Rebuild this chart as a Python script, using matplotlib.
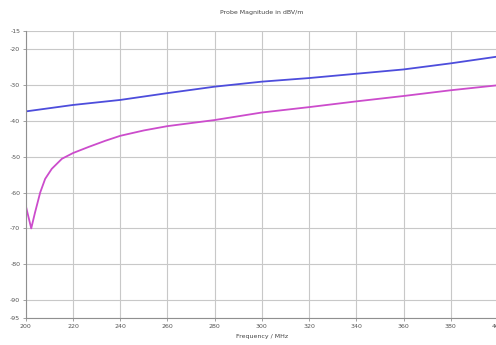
import matplotlib
matplotlib.use("Agg")
import matplotlib.pyplot as plt

# data
freq_blue = [200, 220, 240, 260, 280, 300, 320, 340, 360, 380, 400]
mag_blue = [-37.4, -35.6, -34.2, -32.3, -30.5, -29.1, -28.1, -26.9, -25.7, -24.0, -22.1]

freq_pink = [200, 202.3, 203.9, 206.1, 208.2, 211, 215.3, 220, 226.6, 233.6, 240, 250, 260,
             280, 300, 320, 340, 360, 380, 400]
mag_pink = [-63.7, -70.0, -65.6, -60.0, -56.2, -53.4, -50.6, -49.0, -47.3, -45.6, -44.2, -42.7, -41.5,
            -39.8, -37.7, -36.2, -34.6, -33.1, -31.5, -30.1]

xticks = [200, 220, 240, 260, 280, 300, 320, 340, 360, 380, 400]
yticks = [-15, -20, -30, -40, -50, -60, -70, -80, -90, -95]

fig = plt.figure(figsize=(4.96, 3.45), dpi=100)
ax = fig.add_axes([0.052, 0.078, 0.952, 0.832])

ax.plot(freq_blue, mag_blue, color="#4d4ddc", lw=1.3)
ax.plot(freq_pink, mag_pink, color="#cc4ccc", lw=1.3)

ax.set_xlim(200, 400)
ax.set_ylim(-95, -15)
ax.set_xticks(xticks)
ax.set_yticks(yticks)
ax.set_yticklabels([str(v) for v in yticks])

ax.grid(True, color="#c8c8c8", lw=0.8)
for s in ["top", "right"]:
    ax.spines[s].set_visible(False)
for s in ["left", "bottom"]:
    ax.spines[s].set_color("#909090")
    ax.spines[s].set_linewidth(0.8)
ax.tick_params(labelsize=4.5, colors="#909090", labelcolor="#555555", length=2, width=0.6, pad=2)

ax.set_title("Probe Magnitude in dBV/m", fontsize=4.5, color="#444444", pad=12)
ax.set_xlabel("Frequency / MHz", fontsize=4.5, color="#444444", labelpad=4)

plt.savefig("out.png", dpi=100)
